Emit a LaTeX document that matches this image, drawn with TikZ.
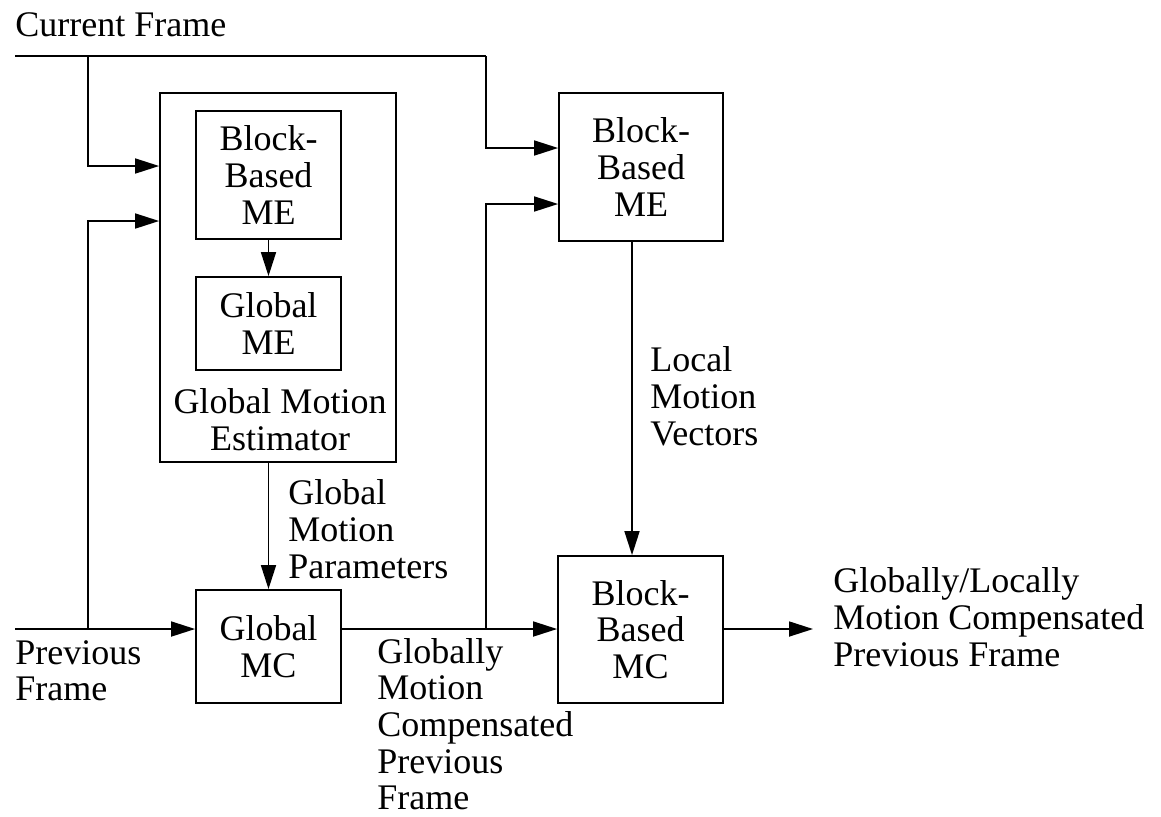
\documentclass[tikz,border=0pt]{standalone}
\usepackage{fontspec}
\setmainfont{Liberation Serif}
\usetikzlibrary{arrows.meta}
\newcommand\lblfont{\fontsize{18pt}{18.3pt}\selectfont}
\tikzset{
  box/.style={draw, line width=0.9pt, inner sep=0pt, align=center, font=\lblfont},
  lbl/.style={inner sep=0pt, align=left, anchor=north west, font=\lblfont},
  wire/.style={line width=0.85pt},
  arr/.style={wire, -{Triangle[length=12pt,width=7.5pt]}}
}
\begin{document}
\begin{tikzpicture}[x=0.5pt, y=-0.5pt]
\useasboundingbox (0,0) rectangle (1161,816);

% blocks
\node[box, minimum width=118pt, minimum height=184.5pt] (gmest) at (278,277.5) {};
\node[box, minimum width=72.5pt, minimum height=64pt] (bme1) at (268.5,175) {Block-\\Based\\ME};
\node[box, minimum width=72.5pt, minimum height=46.5pt] (gme) at (268.5,323.5) {Global\\ME};
\node[box, minimum width=72.5pt, minimum height=56.5pt] (gmc) at (268.5,646.5) {Global\\MC};
\node[box, minimum width=82pt, minimum height=74pt] (bme2) at (641,167) {Block-\\Based\\ME};
\node[box, minimum width=82.5pt, minimum height=73.5pt] (bmc) at (640.5,629.5) {Block-\\Based\\MC};

% labels
\node[lbl] (cf) at (15,12.5) {Current Frame};
\node[lbl, anchor=north, align=center] (gmel) at (280,388.5) {Global Motion\\Estimator};
\node[lbl] (gmp) at (288,479.5) {Global\\Motion\\Parameters};
\node[lbl] (lmv) at (650,346.5) {Local\\Motion\\Vectors};
\node[lbl] (pf) at (15,640) {Previous\\Frame};
\node[lbl] (gmcp) at (377,638) {Globally\\Motion\\Compensated\\Previous\\Frame};
\node[lbl] (outl) at (833,567.5) {Globally/Locally\\Motion Compensated\\Previous Frame};

% inputs, junctions and output
\coordinate (cin) at (15,56);
\coordinate (pin) at (15,629);
\coordinate (ja) at (88,56);
\coordinate (jb) at (486,56);
\coordinate (jc) at (88,629);
\coordinate (jd) at (486,629);
\coordinate (out) at (813,629);
\coordinate (lv) at (632,0);

% connectors
\draw[wire] (cin) -- (jb);
\draw[arr] (jb) |- (bme2.west |- 0,148);
\draw[arr] (ja) |- (gmest.west |- 0,166);
\draw[arr] (pin) -- (gmc.west |- pin);
\draw[arr] (jc) |- (gmest.west |- 0,221);
\draw[arr] (gmc.east |- pin) -- (bmc.west |- pin);
\draw[arr] (jd) |- (bme2.west |- 0,204);
\draw[arr] (bmc.east |- pin) -- (out);
\draw[arr] (bme1) -- (gme);
\draw[arr] (gmest.south -| gmc.north) -- (gmc.north);
\draw[arr] (bme2.south -| lv) -- (bmc.north -| lv);
\end{tikzpicture}
\end{document}
